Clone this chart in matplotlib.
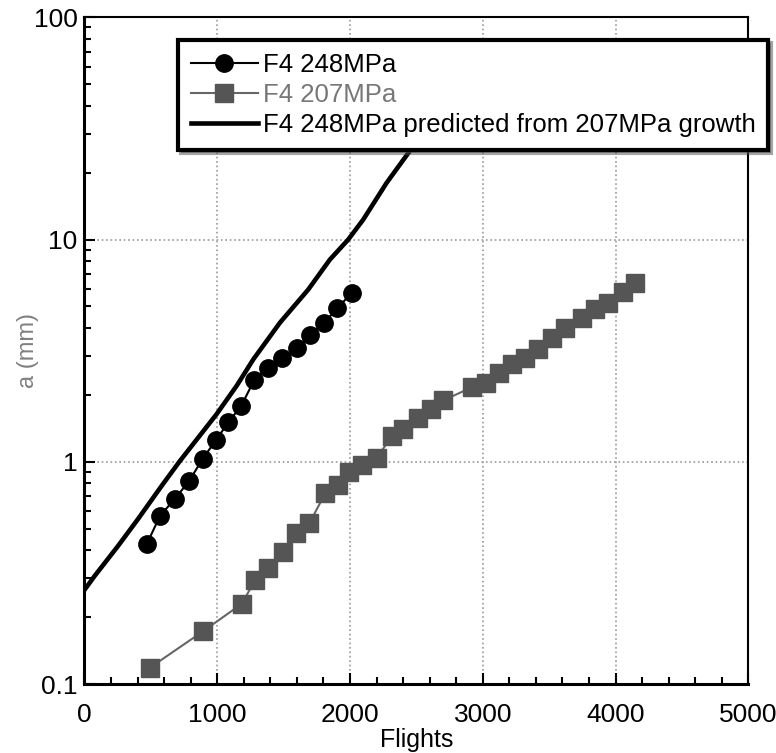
import numpy as np
import matplotlib.pyplot as plt
from matplotlib.ticker import FixedLocator, LogLocator, NullFormatter, MultipleLocator

plt.rcParams['font.family'] = ['Liberation Sans', 'DejaVu Sans']

# F4 248MPa test data (flights, crack length mm)
flights_248 = [470, 570, 680, 790, 890, 990, 1085, 1180, 1280, 1380,
               1485, 1600, 1700, 1805, 1905, 2013]
a_248 = [0.427, 0.572, 0.680, 0.822, 1.03, 1.25, 1.51, 1.78, 2.34, 2.64,
         2.94, 3.24, 3.71, 4.23, 4.90, 5.77]

# F4 207MPa test data
flights_207 = [494, 895, 1187, 1285, 1385, 1495, 1596, 1695, 1815, 1913,
               1992, 2094, 2201, 2316, 2401, 2516, 2614, 2703, 2916, 3024,
               3123, 3218, 3318, 3416, 3523, 3621, 3745, 3845, 3943, 4056, 4146]
a_207 = [0.1185, 0.173, 0.230, 0.294, 0.332, 0.393, 0.480, 0.530, 0.724, 0.790,
         0.904, 0.966, 1.044, 1.30, 1.41, 1.57, 1.725, 1.89, 2.16, 2.27,
         2.50, 2.75, 2.92, 3.21, 3.59, 3.98, 4.45, 4.89, 5.18, 5.80, 6.39]

# 248MPa predicted from 207MPa growth
flights_pred = [0, 78, 253, 404, 582, 720, 996, 1147, 1272, 1473,
                1686, 1849, 1987, 2100, 2276, 2439]
a_pred = [0.265, 0.307, 0.418, 0.553, 0.780, 1.01, 1.64, 2.20, 2.89, 4.23,
          5.96, 8.13, 10.0, 12.3, 18.0, 24.5]

fig = plt.figure(figsize=(7.76, 7.53), dpi=100)
ax = fig.add_axes([0.1088, 0.0916, 0.8555, 0.8854])

ax.plot(flights_248, a_248, '-o', color='black', lw=1.5, ms=12.5,
        label='F4 248MPa', zorder=4)
ax.plot(flights_207, a_207, '-s', color='#666666', mfc='#555555', mec='#555555',
        lw=1.5, ms=13.5, label='F4 207MPa', zorder=3)
ax.plot(flights_pred, a_pred, '-', color='black', lw=3.3,
        label='F4 248MPa predicted from 207MPa growth', zorder=5)

ax.set_yscale('log')
ax.set_xlim(0, 5000)
ax.set_ylim(0.1, 100)

ax.xaxis.set_major_locator(MultipleLocator(1000))
ax.xaxis.set_minor_locator(MultipleLocator(200))
ax.yaxis.set_major_locator(FixedLocator([0.1, 1, 10, 100]))
ax.yaxis.set_minor_locator(LogLocator(base=10, subs=np.arange(2, 10)))
ax.yaxis.set_minor_formatter(NullFormatter())
ax.set_yticklabels(['0.1', '1', '10', '100'])

ax.tick_params(which='both', direction='in', top=False, right=False,
               labelsize=19, width=1.5)
ax.tick_params(which='major', length=8)
ax.tick_params(which='minor', length=5)
ax.tick_params(axis='x', which='major', pad=14)
ax.tick_params(axis='y', which='major', pad=5)

ax.grid(True, which='major', ls=':', color='#999999', lw=1.2)

for side in ['left', 'bottom']:
    ax.spines[side].set_linewidth(2.2)
for side in ['top', 'right']:
    ax.spines[side].set_linewidth(1.5)

ax.set_xlabel('Flights', fontsize=18, va='top')
ax.xaxis.set_label_coords(0.5, -0.066)
ax.set_ylabel('a (mm)', fontsize=17, color='#808080', va='center')
ax.yaxis.set_label_coords(-0.085, 0.5)

leg = ax.legend(loc='upper left', bbox_to_anchor=(0.141, 0.966), borderaxespad=0,
                fontsize=18.5, frameon=True, fancybox=False, shadow=True,
                handlelength=2.6, handletextpad=0.2, labelspacing=0.24,
                borderpad=0.5)
leg.get_frame().set_edgecolor('black')
leg.get_frame().set_linewidth(3)
leg.get_frame().set_alpha(1)
leg.get_texts()[1].set_color('#777777')

fig.savefig('out.png', dpi=100)
plt.close(fig)
